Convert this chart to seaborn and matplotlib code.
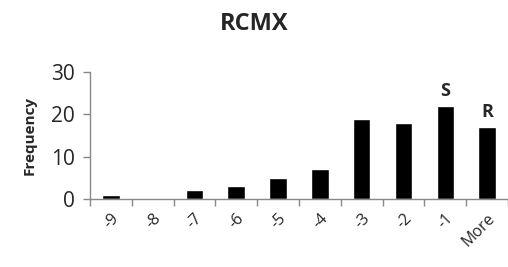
import pandas as pd
import matplotlib
matplotlib.use('Agg')
import matplotlib.pyplot as plt
import seaborn as sns

# data
bins = ['-9', '-8', '-7', '-6', '-5', '-4', '-3', '-2', '-1', 'More']
frequency = [1, 0, 2, 3, 5, 7, 19, 18, 22, 17]
marks = {'-1': 'S', 'More': 'R'}

df = pd.DataFrame({'Bin': bins, 'Frequency': frequency})

sns.set_style('white')
plt.rcParams['font.family'] = ['Open Sans', 'DejaVu Sans']

fig = plt.figure(figsize=(5.08, 2.67), dpi=100)
ax = fig.add_axes([0.177, 0.255, 0.823, 0.475])
sns.barplot(data=df, x='Bin', y='Frequency', color='black', width=0.42,
            saturation=1, ax=ax)

ax.set_ylim(0, 30)
ax.set_xlim(-0.5, len(bins) - 0.5)
ax.set_yticks([0, 10, 20, 30])
ax.tick_params(axis='y', labelsize=15, length=5, width=1, color='#888888',
               left=True, pad=6)

# category boundaries as tick marks, labels at bar centres
ax.set_xticks([i - 0.5 for i in range(len(bins) + 1)], minor=True)
ax.tick_params(axis='x', which='minor', length=5, width=1, color='#888888',
               bottom=True)
ax.tick_params(axis='x', which='major', length=0, labelsize=11.5, pad=8)
ax.set_xticks(range(len(bins)))
ax.set_xticklabels(bins, rotation=45, ha='right', rotation_mode='anchor')

for s in ['top', 'right']:
    ax.spines[s].set_visible(False)
for s in ['left', 'bottom']:
    ax.spines[s].set_color('#888888')
    ax.spines[s].set_linewidth(1)

for i, b in enumerate(bins):
    if b in marks:
        ax.text(i, frequency[i] + 1.5, marks[b], ha='center', va='bottom',
                fontsize=13, fontweight='bold')

ax.set_xlabel('')
ax.set_ylabel('Frequency', fontsize=11, fontweight='bold', labelpad=10)
fig.suptitle('RCMX', x=0.5, y=0.955, fontsize=17, fontweight='bold')

fig.savefig('out.png', dpi=100)
